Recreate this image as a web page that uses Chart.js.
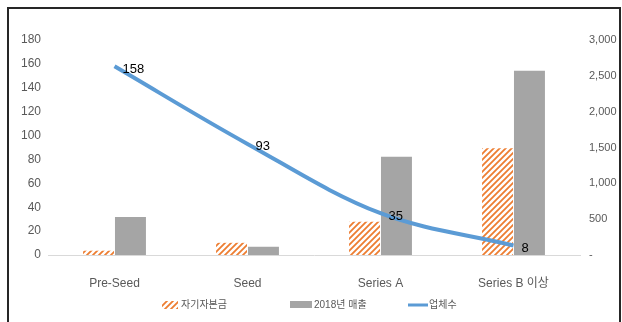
<!DOCTYPE html>
<html>
<head>
<meta charset="utf-8">
<script src="https://cdn.jsdelivr.net/npm/chart.js@4/dist/chart.umd.min.js"></script>
<style>
  body { margin: 0; background: #fff; }
  #wrap { position: relative; width: 622px; height: 322px; overflow: hidden; }
  #frame { position: absolute; left: 7px; top: 7px; width: 610px; height: 340px;
           border: 2px solid #262626; pointer-events: none; }
  canvas { display: block; }
</style>
</head>
<body>
<div id="wrap">
  <canvas id="chart" width="622" height="322"></canvas>
  <div id="frame"></div>
</div>
<script>
// 데이터
const categories = ['Pre-Seed', 'Seed', 'Series A', 'Series B 이상'];
const equity = [60, 170, 465, 1490];      // 자기자본금 (오른쪽 축)
const sales2018 = [530, 115, 1372, 2572];  // 2018년 매출 (오른쪽 축)
const companies = [158, 93, 35, 8];        // 업체수 (왼쪽 축)
const seriesNames = ['자기자본금', '2018년 매출', '업체수'];

const axisFont = { family: "'Liberation Sans', 'Noto Sans CJK KR', sans-serif", size: 12 };
const rightFont = { family: axisFont.family, size: 11 };
const korFont = "'Liberation Sans', 'Noto Sans CJK KR', sans-serif";

const ctx = document.getElementById('chart').getContext('2d');

// 빗금 패턴
function makeHatch() {
  const c = document.createElement('canvas');
  c.width = 6; c.height = 6;
  const g = c.getContext('2d');
  g.fillStyle = '#fff';
  g.fillRect(0, 0, 6, 6);
  g.strokeStyle = '#ED7D31';
  g.lineWidth = 1.8;
  g.beginPath();
  g.moveTo(0, 6); g.lineTo(6, 0);
  g.moveTo(-3, 3); g.lineTo(3, -3);
  g.moveTo(3, 9); g.lineTo(9, 3);
  g.stroke();
  return ctx.createPattern(c, 'repeat');
}
const hatch = makeHatch();

// 선 데이터 레이블
const lineLabels = {
  id: 'lineLabels',
  afterDatasetsDraw(chart) {
    const meta = chart.getDatasetMeta(2);
    const c = chart.ctx;
    c.save();
    c.font = '13px ' + axisFont.family;
    c.fillStyle = '#000';
    c.textAlign = 'left';
    c.textBaseline = 'middle';
    meta.data.forEach((pt, i) => {
      c.fillText(companies[i], pt.x + 8, pt.y + 3);
    });
    c.restore();
  }
};

// 범례
const customLegend = {
  id: 'customLegend',
  afterDraw(chart) {
    const c = chart.ctx;
    const y = 305;
    c.save();
    c.font = '10px ' + korFont;
    c.textBaseline = 'middle';
    // 자기자본금
    c.fillStyle = hatch;
    c.fillRect(162, y - 4, 16, 8);
    c.fillStyle = '#595959';
    c.fillText(seriesNames[0], 181, y);
    // 2018년 매출
    c.fillStyle = '#A5A5A5';
    c.fillRect(290, y - 4, 22, 7);
    c.fillStyle = '#595959';
    c.fillText(seriesNames[1], 314, y);
    // 업체수
    c.strokeStyle = '#5B9BD5';
    c.lineWidth = 3;
    c.beginPath();
    c.moveTo(408, y); c.lineTo(428, y);
    c.stroke();
    c.fillText(seriesNames[2], 429, y);
    c.restore();
  }
};

new Chart(ctx, {
  data: {
    labels: categories,
    datasets: [
      {
        type: 'bar',
        label: seriesNames[0],
        data: equity,
        yAxisID: 'y1',
        backgroundColor: hatch,
        categoryPercentage: 0.48,
        barPercentage: 0.97,
        order: 2
      },
      {
        type: 'bar',
        label: seriesNames[1],
        data: sales2018,
        yAxisID: 'y1',
        backgroundColor: '#A5A5A5',
        categoryPercentage: 0.48,
        barPercentage: 0.97,
        order: 2
      },
      {
        type: 'line',
        label: seriesNames[2],
        data: companies,
        yAxisID: 'y',
        borderColor: '#5B9BD5',
        borderWidth: 4,
        pointRadius: 0,
        tension: 0.35,
        fill: false,
        order: 1
      }
    ]
  },
  options: {
    responsive: false,
    animation: false,
    layout: { padding: { top: 40, bottom: 27, left: 0, right: 0 } },
    plugins: {
      legend: { display: false },
      title: { display: false },
      tooltip: { enabled: false }
    },
    scales: {
      x: {
        grid: { display: false },
        border: { display: true, color: '#D9D9D9', width: 1 },
        ticks: { color: '#595959', font: axisFont, padding: 13, maxRotation: 0 },
        afterFit(s) { s.height = 40; }
      },
      y: {
        position: 'left',
        min: 0,
        max: 180,
        grid: { display: false, drawTicks: false },
        border: { display: false },
        ticks: { stepSize: 20, color: '#595959', font: axisFont, padding: 7 },
        afterFit(s) { s.width = 48; }
      },
      y1: {
        position: 'right',
        min: 0,
        max: 3000,
        grid: { display: false, drawTicks: false },
        border: { display: false },
        ticks: {
          stepSize: 500,
          color: '#595959',
          font: rightFont,
          padding: 9,
          callback: v => v === 0 ? '-' : v.toLocaleString('en-US')
        },
        afterFit(s) { s.width = 42; }
      }
    }
  },
  plugins: [lineLabels, customLegend]
});
</script>
</body>
</html>
